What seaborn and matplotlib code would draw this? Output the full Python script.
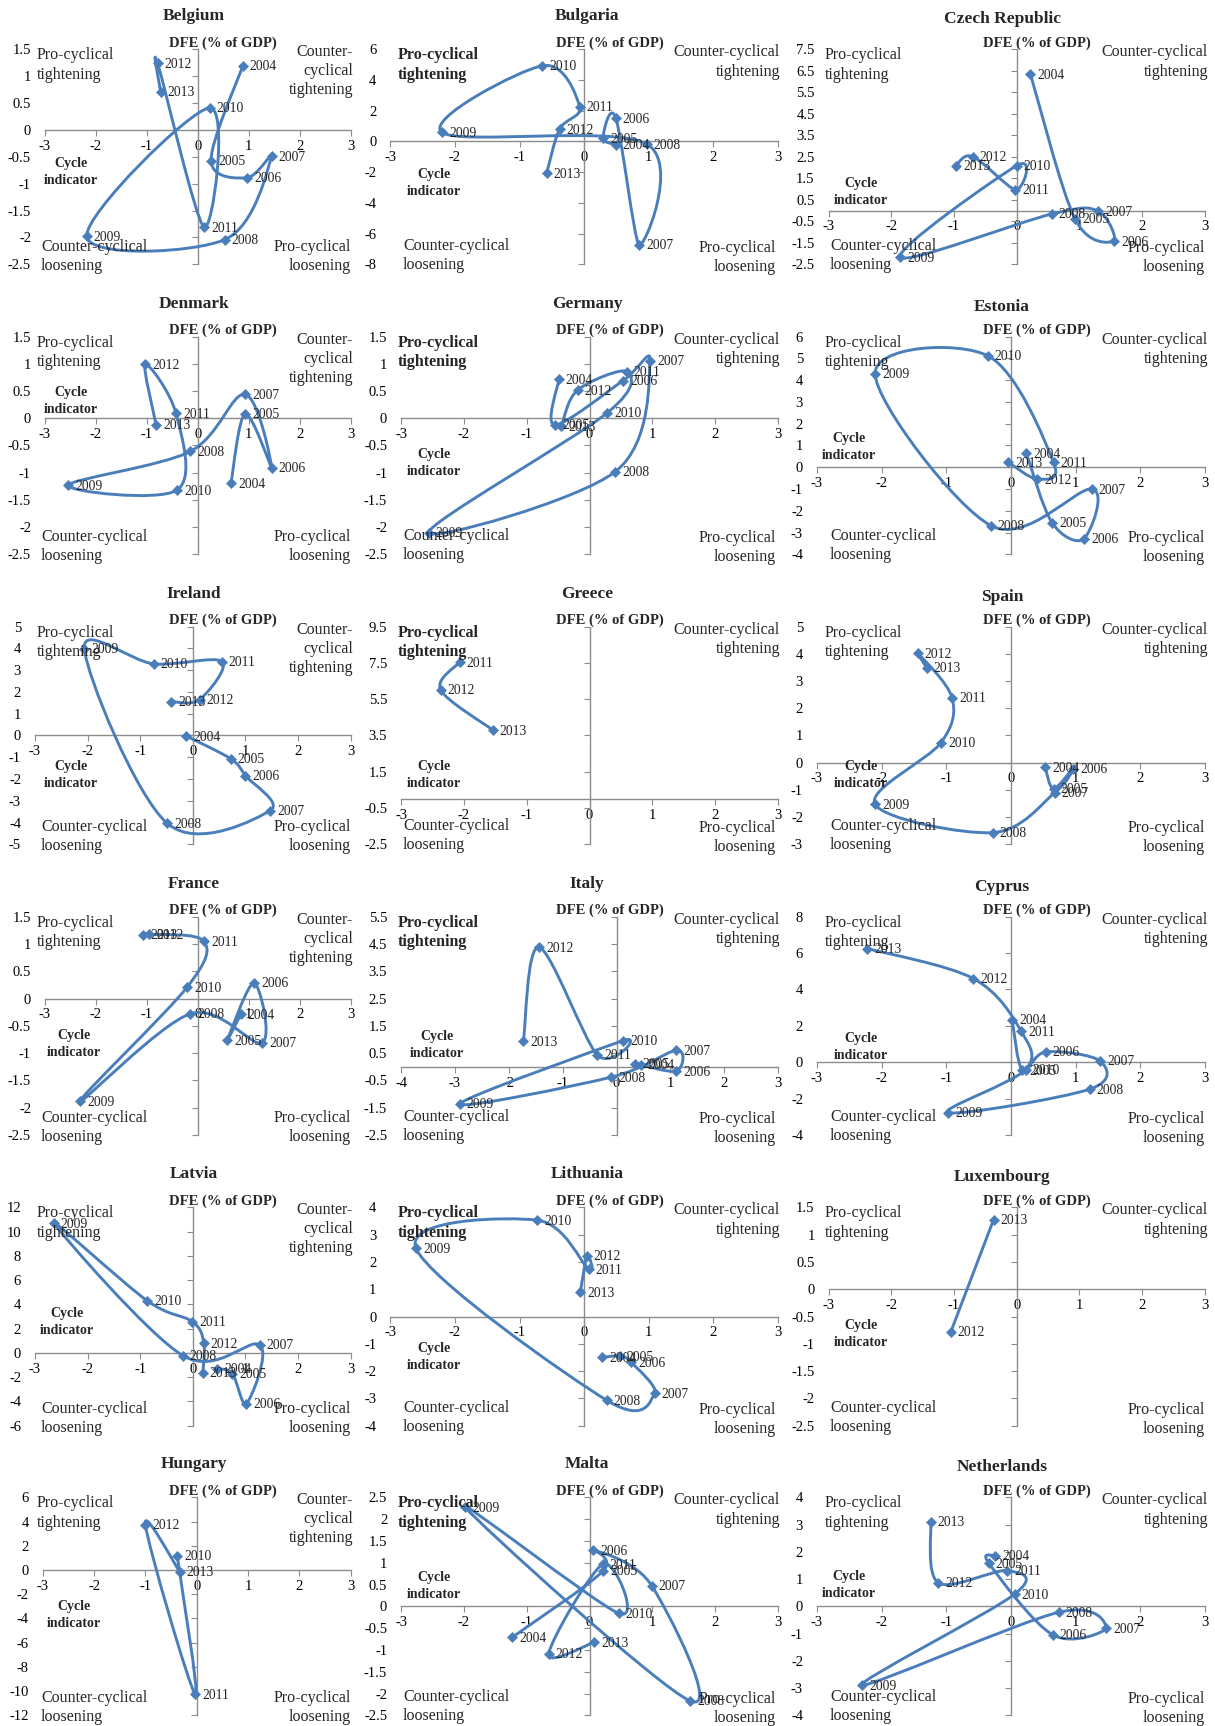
import numpy as np
import pandas as pd
import matplotlib
matplotlib.use("Agg")
import matplotlib.pyplot as plt
import seaborn as sns
from matplotlib.path import Path
from matplotlib.patches import PathPatch
from matplotlib.ticker import FuncFormatter

# ---------------- data (cycle indicator x, DFE % of GDP y) ----------------
years_all = [2004, 2005, 2006, 2007, 2008, 2009, 2010, 2011, 2012, 2013]

belgium_x = [0.88, 0.26, 0.97, 1.45, 0.53, -2.18, 0.23, 0.12, -0.79, -0.73]
belgium_y = [1.19, -0.57, -0.89, -0.49, -2.04, -1.98, 0.41, -1.81, 1.24, 0.71]

bulgaria_x = [0.49, 0.29, 0.49, 0.85, 0.97, -2.20, -0.65, -0.07, -0.38, -0.58]
bulgaria_y = [-0.22, 0.20, 1.52, -6.74, -0.17, 0.59, 4.93, 2.26, 0.80, -2.07]

czech_x = [0.22, 0.93, 1.55, 1.30, 0.56, -1.86, 0.00, -0.02, -0.70, -0.97]
czech_y = [6.33, -0.39, -1.43, -0.03, -0.16, -2.17, 2.09, 0.96, 2.51, 2.09]

denmark_x = [0.65, 0.93, 1.45, 0.93, -0.15, -2.54, -0.41, -0.43, -1.03, -0.82]
denmark_y = [-1.19, 0.08, -0.91, 0.44, -0.61, -1.23, -1.32, 0.09, 0.99, -0.12]

germany_x = [-0.49, -0.55, 0.53, 0.96, 0.41, -2.56, 0.28, 0.59, -0.19, -0.45]
germany_y = [0.72, -0.12, 0.69, 1.06, -0.98, -2.10, 0.10, 0.86, 0.52, -0.15]

estonia_x = [0.24, 0.64, 1.13, 1.25, -0.31, -2.10, -0.36, 0.66, 0.41, -0.04]
estonia_y = [0.64, -2.56, -3.29, -1.00, -2.68, 4.29, 5.13, 0.23, -0.54, 0.23]

ireland_x = [-0.12, 0.72, 1.00, 1.47, -0.49, -2.06, -0.74, 0.55, 0.13, -0.41]
ireland_y = [-0.03, -1.07, -1.84, -3.45, -4.03, 3.98, 3.29, 3.40, 1.65, 1.56]

greece_years = [2011, 2012, 2013]
greece_x = [-2.07, -2.37, -1.54]
greece_y = [7.54, 6.02, 3.80]

spain_x = [0.53, 0.66, 0.96, 0.68, -0.28, -2.10, -1.08, -0.91, -1.44, -1.30]
spain_y = [-0.16, -0.95, -0.22, -1.10, -2.57, -1.53, 0.74, 2.39, 4.03, 3.49]

france_x = [0.84, 0.58, 1.10, 1.26, -0.15, -2.31, -0.21, 0.12, -0.96, -1.07]
france_y = [-0.29, -0.76, 0.29, -0.81, -0.28, -1.88, 0.21, 1.05, 1.18, 1.17]

italy_x = [0.45, 0.35, 1.11, 1.11, -0.10, -2.91, 0.12, -0.36, -1.44, -1.73]
italy_y = [0.08, 0.12, -0.16, 0.60, -0.38, -1.36, 0.96, 0.44, 4.38, 0.93]

cyprus_x = [0.02, 0.18, 0.54, 1.38, 1.22, -0.97, 0.23, 0.16, -0.58, -2.22]
cyprus_y = [2.34, -0.44, 0.57, 0.07, -1.48, -2.77, -0.40, 1.70, 4.60, 6.25]

latvia_x = [0.46, 0.75, 1.02, 1.27, -0.19, -2.64, -0.87, -0.01, 0.21, 0.19]
latvia_y = [-1.30, -1.70, -4.20, 0.66, -0.22, 10.70, 4.31, 2.58, 0.80, -1.65]

lithuania_x = [0.28, 0.55, 0.73, 1.09, 0.35, -2.60, -0.73, 0.07, 0.04, -0.06]
lithuania_y = [-1.50, -1.45, -1.68, -2.82, -3.07, 2.50, 3.53, 1.73, 2.22, 0.88]

luxembourg_years = [2012, 2013]
luxembourg_x = [-1.05, -0.37]
luxembourg_y = [-0.78, 1.27]

hungary_years = [2010, 2011, 2012, 2013]
hungary_x = [-0.38, -0.03, -1.00, -0.33]
hungary_y = [1.18, -10.25, 3.72, -0.14]

malta_x = [-1.23, 0.22, 0.06, 0.99, 1.60, -1.98, 0.46, 0.21, -0.65, 0.07]
malta_y = [-0.71, 0.82, 1.29, 0.47, -2.17, 2.27, -0.16, 0.97, -1.09, -0.83]

netherlands_x = [-0.24, -0.34, 0.65, 1.47, 0.74, -2.30, 0.06, -0.06, -1.12, -1.24]
netherlands_y = [1.86, 1.58, -1.05, -0.81, -0.22, -2.89, 0.45, 1.31, 0.86, 3.11]

# ---------------- layout (pixels in the 1215x1726 figure) ----------------
W, H = 1215, 1726
ROW_TOP = [49.3, 336.7, 626.7, 916.7, 1207.3, 1497.3]
ROW_BOT = [264.3, 554.3, 844.3, 1135.0, 1425.7, 1715.3]
COL_RIGHT = [350.7, 778.1, 1204.8]
TITLE_X = [194, 587, 1002]
DFE_X = [222.6, 610, 1036.5]

# name, years, xs, ys, row, col, plot_left, ymin, ymax, ystep, xmin, cycle label (x, y)
panels = [
    ("Belgium", years_all, belgium_x, belgium_y, 0, 0, 45.0, -2.5, 1.5, 0.5, -3, (71, 172)),
    ("Bulgaria", years_all, bulgaria_x, bulgaria_y, 0, 1, 390.2, -8, 6, 2, -3, (434, 183)),
    ("Czech Republic", years_all, czech_x, czech_y, 0, 2, 828.6, -2.5, 7.5, 1, -3, (861, 192)),
    ("Denmark", years_all, denmark_x, denmark_y, 1, 0, 45.0, -2.5, 1.5, 0.5, -3, (71, 401)),
    ("Germany", years_all, germany_x, germany_y, 1, 1, 401.1, -2.5, 1.5, 0.5, -3, (434, 463)),
    ("Estonia", years_all, estonia_x, estonia_y, 1, 2, 816.9, -4, 6, 1, -3, (849, 447)),
    ("Ireland", years_all, ireland_x, ireland_y, 2, 0, 34.9, -5, 5, 1, -3, (71, 775)),
    ("Greece", greece_years, greece_x, greece_y, 2, 1, 401.1, -2.5, 9.5, 2, -3, (434, 775)),
    ("Spain", years_all, spain_x, spain_y, 2, 2, 816.9, -3, 5, 1, -3, (861, 775)),
    ("France", years_all, france_x, france_y, 3, 0, 45.0, -2.5, 1.5, 0.5, -3, (74, 1044)),
    ("Italy", years_all, italy_x, italy_y, 3, 1, 401.1, -2.5, 5.5, 1, -4, (437, 1045)),
    ("Cyprus", years_all, cyprus_x, cyprus_y, 3, 2, 816.9, -4, 8, 2, -3, (861, 1047)),
    ("Latvia", years_all, latvia_x, latvia_y, 4, 0, 34.9, -6, 12, 2, -3, (67, 1322)),
    ("Lithuania", years_all, lithuania_x, lithuania_y, 4, 1, 390.2, -4, 4, 1, -3, (434, 1357)),
    ("Luxembourg", luxembourg_years, luxembourg_x, luxembourg_y, 4, 2, 828.6, -2.5, 1.5, 0.5, -3, (861, 1334)),
    ("Hungary", hungary_years, hungary_x, hungary_y, 5, 0, 42.7, -12, 6, 2, -3, (74, 1615)),
    ("Malta", years_all, malta_x, malta_y, 5, 1, 401.1, -2.5, 2.5, 0.5, -3, (434, 1586)),
    ("Netherlands", years_all, netherlands_x, netherlands_y, 5, 2, 816.9, -4, 4, 1, -3, (849, 1585)),
]

LINE = "#4A7EBB"
AXIS = "#8C8C8C"

sns.set_style("white")
plt.rcParams["font.family"] = ["Liberation Serif", "DejaVu Serif"]
plt.rcParams["axes.unicode_minus"] = False

fig = plt.figure(figsize=(W / 100, H / 100), dpi=100)
fig.patch.set_facecolor("white")


def ftext(x, y, s, **kw):
    fig.text(x / W, 1 - y / H, s, **kw)


def smooth_path(xs, ys):
    pts = np.column_stack([xs, ys]).astype(float)
    n = len(pts)
    verts = [pts[0]]
    codes = [Path.MOVETO]
    for i in range(n - 1):
        p0 = pts[i - 1] if i > 0 else pts[i]
        p1 = pts[i]
        p2 = pts[i + 1]
        p3 = pts[i + 2] if i + 2 < n else pts[i + 1]
        verts += [p1 + (p2 - p0) / 6.0, p2 - (p3 - p1) / 6.0, p2]
        codes += [Path.CURVE4] * 3
    return Path(verts, codes)


fmt = FuncFormatter(lambda v, p: f"{v:g}")

for (name, yrs, xs, ys, r, c, left, ymin, ymax, ystep, xmin, cyc) in panels:
    top, bot, right = ROW_TOP[r], ROW_BOT[r], COL_RIGHT[c]
    ax = fig.add_axes([left / W, 1 - bot / H, (right - left) / W, (bot - top) / H])
    ax.set_facecolor("none")
    df = pd.DataFrame({"x": xs, "y": ys, "year": yrs})

    ax.add_patch(PathPatch(smooth_path(df["x"], df["y"]), fill=False, edgecolor=LINE,
                           lw=2.1, capstyle="round", joinstyle="round", zorder=3, clip_on=False))
    sns.scatterplot(data=df, x="x", y="y", marker="D", s=26, color=LINE, edgecolor=LINE,
                    linewidth=0.5, ax=ax, zorder=4, clip_on=False)
    for _, row in df.iterrows():
        ax.annotate(str(int(row["year"])), (row["x"], row["y"]), xytext=(7, -1),
                    textcoords="offset pixels", fontsize=9.8, ha="left", va="center",
                    zorder=5, annotation_clip=False)

    ax.set_xlim(xmin, 3)
    ax.set_ylim(ymin, ymax)
    ax.set_xlabel("")
    ax.set_ylabel("")
    ax.set_xticks(np.arange(xmin, 3.01, 1))
    ax.set_yticks(np.arange(ymin, ymax + ystep / 2, ystep))
    ax.xaxis.set_major_formatter(fmt)
    ax.yaxis.set_major_formatter(fmt)

    ax.spines["top"].set_visible(False)
    ax.spines["left"].set_visible(False)
    ax.spines["bottom"].set_position(("data", 0))
    ax.spines["right"].set_position(("data", 0))
    for sp in ("bottom", "right"):
        ax.spines[sp].set_color(AXIS)
        ax.spines[sp].set_linewidth(1.0)
    ax.yaxis.set_ticks_position("both")
    ax.tick_params(axis="y", left=False, right=True, labelleft=True, labelright=False,
                   direction="in", length=4, width=0.8, color=AXIS, labelsize=10.5,
                   labelcolor="black", pad=10)
    ax.tick_params(axis="x", bottom=True, direction="out", length=4, width=0.8,
                   color=AXIS, labelsize=10.5, labelcolor="black", pad=3)
    ax.grid(False)

    # title
    ty = top - (30 if c == 2 else 33)
    ftext(TITLE_X[c], ty, name, fontsize=12.5, fontweight="bold", ha="center", va="center")

    # axis titles
    ftext(DFE_X[c], top - 6, "DFE (% of GDP)", fontsize=10.5, fontweight="bold",
          ha="center", va="center")
    ftext(cyc[0], cyc[1], "Cycle\nindicator", fontsize=10, fontweight="bold",
          ha="center", va="center", multialignment="center", linespacing=1.35)

    # quadrant labels
    qs = 11.5
    if c == 0:
        ftext(37, top - 2, "Pro-cyclical\ntightening", fontsize=qs, ha="left", va="top",
              linespacing=1.3)
        ftext(353, top - 5, "Counter-\ncyclical\ntightening", fontsize=qs, ha="right",
              va="top", multialignment="right", linespacing=1.25)
        ftext(41, bot + 10, "Counter-cyclical\nloosening", fontsize=qs, ha="left",
              va="bottom", linespacing=1.25)
        ftext(351, bot + 10, "Pro-cyclical\nloosening", fontsize=qs, ha="right",
              va="bottom", multialignment="right", linespacing=1.25)
    else:
        tl_x, tr_x, bl_x, br_x = ((398, 780, 403, 776) if c == 1 else (825, 1208, 830, 1205))
        ftext(tl_x, top - 2, "Pro-cyclical\ntightening", fontsize=qs, ha="left", va="top",
              linespacing=1.3, fontweight=("bold" if c == 1 else "normal"))
        ftext(tr_x, top - 5, "Counter-cyclical\ntightening", fontsize=qs, ha="right",
              va="top", multialignment="right", linespacing=1.3)
        ftext(bl_x, bot + 9, "Counter-cyclical\nloosening", fontsize=qs, ha="left",
              va="bottom", linespacing=1.25)
        ftext(br_x, bot + 11, "Pro-cyclical\nloosening", fontsize=qs, ha="right",
              va="bottom", multialignment="right", linespacing=1.25)

fig.savefig("out.png", dpi=100, facecolor="white")
